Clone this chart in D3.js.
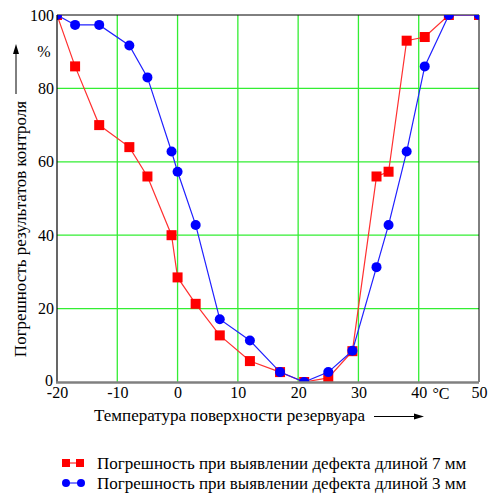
<!DOCTYPE html>
<html><head><meta charset="utf-8">
<script src="https://cdn.jsdelivr.net/npm/d3@7"></script>
<style>body{margin:0;background:#fff}svg text{font-family:"Liberation Serif","Times New Roman",serif !important;fill:#000}</style>
</head><body><div id="chart"></div>
<script>
const temps7 = [-20,-17,-13,-8,-5,-1,0,3,7,12,17,21,25,29,33,35,38,41,45,50];
const err7   = [100,86,70,64,56,40,28.5,21.3,12.7,5.7,2.7,0,1.1,8.4,56,57.3,93,94,100,100];
const temps3 = [-20,-17,-13,-8,-5,-1,0,3,7,12,17,21,25,29,33,35,38,41,45,50];
const err3   = [100,97.3,97.3,91.7,83,62.8,57.3,42.8,17.1,11.3,2.7,0,2.7,8.5,31.3,42.8,62.8,86,100,100];
const xTicks = [-20,-10,0,10,20,30,40,50];
const yTicks = [0,20,40,60,80,100];
const legendLabels = ["Погрешность при выявлении дефекта длиной 7 мм","Погрешность при выявлении дефекта длиной 3 мм"];

const W=488,H=493;
const svg=d3.select("#chart").append("svg").attr("width",W).attr("height",H);
const x=d3.scaleLinear().domain([-20,50]).range([57,479]);
const y=d3.scaleLinear().domain([0,100]).range([382,15]);

// grid
const g=svg.append("g");
g.selectAll(".vg").data(xTicks.slice(1,-1)).join("line")
 .attr("x1",d=>x(d)).attr("x2",d=>x(d)).attr("y1",y(100)).attr("y2",y(0))
 .attr("stroke","#33ee33").attr("stroke-width",1.3);
g.selectAll(".hg").data(yTicks.slice(1,-1)).join("line")
 .attr("y1",d=>y(d)).attr("y2",d=>y(d)).attr("x1",x(-20)).attr("x2",x(50))
 .attr("stroke","#33ee33").attr("stroke-width",1.3);

// frame
svg.append("line").attr("x1",x(-20)).attr("x2",x(50)).attr("y1",y(100)).attr("y2",y(100)).attr("stroke","#000").attr("stroke-width",1);
svg.append("line").attr("x1",x(50)).attr("x2",x(50)).attr("y1",y(100)).attr("y2",y(0)).attr("stroke","#000").attr("stroke-width",1);

svg.append("defs").append("clipPath").attr("id","clip").append("rect")
 .attr("x",x(-20)).attr("y",y(100)).attr("width",x(50)-x(-20)).attr("height",y(0)-y(100));

const plot=svg.append("g").attr("clip-path","url(#clip)");
const line=d3.line().x(d=>x(d[0])).y(d=>y(d[1]));
const d7=temps7.map((t,i)=>[t,err7[i]]);
const d3s=temps3.map((t,i)=>[t,err3[i]]);
plot.append("path").attr("d",line(d7)).attr("fill","none").attr("stroke","#ff3030").attr("stroke-width",1.2);
plot.selectAll(".sq").data(d7).join("rect")
 .attr("x",d=>x(d[0])-5).attr("y",d=>y(d[1])-5).attr("width",10).attr("height",10).attr("fill","#ff0000");
plot.append("path").attr("d",line(d3s)).attr("fill","none").attr("stroke","#2020ff").attr("stroke-width",1.2);
plot.selectAll(".ci").data(d3s).join("circle")
 .attr("cx",d=>x(d[0])).attr("cy",d=>y(d[1])).attr("r",5).attr("fill","#0000ff");

// axes
svg.append("line").attr("x1",x(-20)).attr("x2",x(-20)).attr("y1",y(100)).attr("y2",y(0)).attr("stroke","#000").attr("stroke-width",1.2);
svg.append("line").attr("x1",x(-20)-1).attr("x2",x(50)).attr("y1",y(0)+0.5).attr("y2",y(0)+0.5).attr("stroke","#808080").attr("stroke-width",2.5);

const xAxis=svg.append("g").attr("transform",`translate(0,${y(0)})`)
 .call(d3.axisBottom(x).tickValues(xTicks).tickFormat(d=>String(d)).tickSize(0).tickPadding(5));
xAxis.select(".domain").remove();
xAxis.attr("font-family",null).attr("font-size",null);
xAxis.selectAll("text").style("font-size","16px");
const yAxis=svg.append("g").attr("transform",`translate(${x(-20)-3},0)`)
 .call(d3.axisLeft(y).tickValues(yTicks).tickFormat(d=>String(d)).tickSize(0).tickPadding(0));
yAxis.select(".domain").remove();
yAxis.attr("font-family",null).attr("font-size",null);
yAxis.selectAll("text").style("font-size","16px");
yAxis.selectAll(".tick").filter(d=>d===0).select("text").attr("dy","0.2em").attr("dx","-1");

svg.append("text").attr("x",44).attr("y",57).attr("text-anchor","middle").style("font-size","16px").text("%");
svg.append("text").attr("x",441).attr("y",399).attr("text-anchor","middle").style("font-size","16px").text("°C");

// y title + arrow
svg.append("text").attr("transform","translate(20,229) rotate(-90)").attr("text-anchor","middle")
 .style("font-size","17px").attr("dominant-baseline","central").text("Погрешность результатов контроля");
svg.append("line").attr("x1",16).attr("x2",16).attr("y1",94).attr("y2",52).attr("stroke","#000").attr("stroke-width",1);
svg.append("path").attr("d","M16,44 L13,54 L19,54 Z").attr("fill","#000");

// x title + arrow
svg.append("text").attr("x",94).attr("y",421).style("font-size","17px").text("Температура поверхности резервуара");
svg.append("line").attr("x1",374).attr("x2",416).attr("y1",416.5).attr("y2",416.5).attr("stroke","#000").attr("stroke-width",1);
svg.append("path").attr("d","M424,416.5 L414,413.5 L414,419.5 Z").attr("fill","#000");

// legend
const lg=svg.append("g");
lg.append("line").attr("x1",65).attr("x2",82).attr("y1",463).attr("y2",463).attr("stroke","#ff0000");
lg.append("rect").attr("x",62).attr("y",459).attr("width",8).attr("height",8).attr("fill","#ff0000");
lg.append("rect").attr("x",76).attr("y",459).attr("width",8).attr("height",8).attr("fill","#ff0000");
lg.append("text").attr("x",97).attr("y",468.5).style("font-size","17px").text(legendLabels[0]);
lg.append("line").attr("x1",66).attr("x2",81).attr("y1",483).attr("y2",483).attr("stroke","#0000ff");
lg.append("circle").attr("cx",66).attr("cy",483).attr("r",4).attr("fill","#0000ff");
lg.append("circle").attr("cx",81).attr("cy",483).attr("r",4).attr("fill","#0000ff");
lg.append("text").attr("x",97).attr("y",488.5).style("font-size","17px").text(legendLabels[1]);
</script></body></html>
